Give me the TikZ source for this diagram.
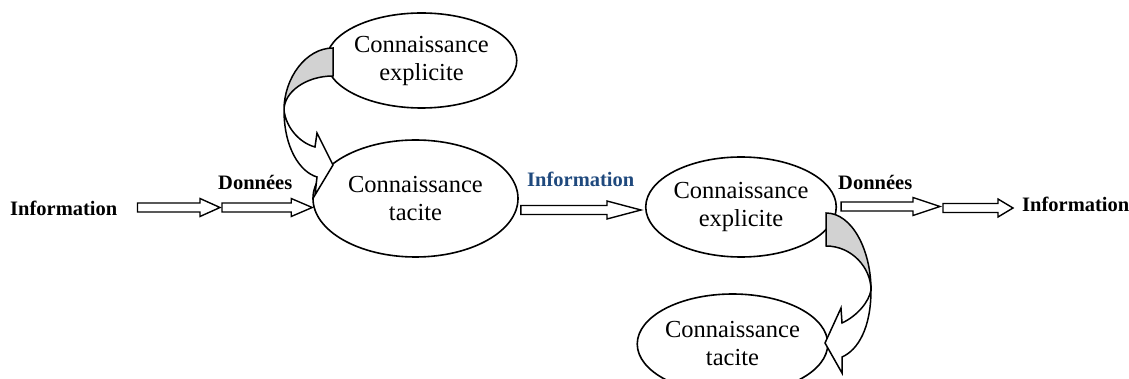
\documentclass[tikz,border=0pt]{standalone}
\usepackage{fontspec}
\setmainfont{Liberation Serif}
\usetikzlibrary{shapes.geometric,calc}

\definecolor{infoblue}{RGB}{31,73,125}
\definecolor{backgray}{RGB}{210,210,210}

\tikzset{
    savoir/.style={ellipse, draw, line width=1.6pt, inner sep=0pt, align=center,
        font=\fontsize{24.5}{28}\selectfont},
    flux/.style={anchor=base west, inner sep=0pt, font=\fontsize{20.5}{24}\selectfont\bfseries},
    blockarrow/.style={draw, line width=1.4pt, fill=white, line join=miter},
    curvedarrow/.style={draw, line width=1.5pt, fill=white, line join=miter},
}

% #1 head length, #2 tail, #3 tip (y taken from the tip)
\def\BlockArrow#1#2#3{
    \draw[blockarrow] let \p1=#2, \p2=#3 in
        (\x1,\y2+4.5pt) -- (\x2-#1pt,\y2+4.5pt) -- (\x2-#1pt,\y2+9pt) -- (\x2,\y2)
        -- (\x2-#1pt,\y2-9pt) -- (\x2-#1pt,\y2-4.5pt) -- (\x1,\y2-4.5pt) -- cycle;
}

\begin{document}
\begin{tikzpicture}[x=1pt,y=-1pt]
    \useasboundingbox (0,0) rectangle (1129,379);
    \clip (0,0) rectangle (1129,379);

    \node[savoir, minimum width=177pt, minimum height=95pt]  (explicitA) at (421.5,60.5) {Connaissance\\explicite};
    \node[savoir, minimum width=205pt, minimum height=117pt] (taciteA)   at (415.5,198.5) {Connaissance\\tacite};
    \node[savoir, minimum width=170pt, minimum height=100pt] (explicitB) at (741,207) {Connaissance\\explicite};
    \node[savoir, minimum width=183pt, minimum height=100pt] (taciteB)   at (732.5,344) {Connaissance\\tacite};

    \node[flux] (infoL)    at (10,216)   {Information};
    \node[flux] (donneesL) at (218,190)  {Données};
    \node[flux, text=infoblue] (infoM) at (527,187) {Information};
    \node[flux] (donneesR) at (838,190)  {Données};
    \node[flux] (infoR)    at (1022,212) {Information};

    \coordinate (j1) at (220,207.5);
    \coordinate (j2) at (940,206.5);
    \coordinate (j3) at (1013,208);

    \BlockArrow{20}{([xshift=20pt]infoL.east)}{(j1)}
    \BlockArrow{21}{([xshift=2pt]j1)}{([yshift=-9pt]taciteA.west)}
    \BlockArrow{34}{([xshift=2pt]taciteA.east)}{([xshift=-4pt,yshift=-3pt]explicitB.west)}
    \BlockArrow{27}{([xshift=4pt]explicitB.east)}{(j2)}
    \BlockArrow{15}{([xshift=3pt]j2)}{(j3)}

    % explicite -> tacite (top)
    \draw[curvedarrow, fill=backgray] (333,48) .. controls (306,48) and (284,78) .. (284,110)
        .. controls (284,92) and (306,76) .. (333,76) -- cycle;
    \draw[curvedarrow] (284,110) .. controls (284,148) and (300,172) .. (317,177)
        -- (315,195) -- (333,165) -- (317,133) -- (315,147)
        .. controls (300,143) and (286,128) .. (284,110) -- cycle;

    % explicite -> tacite (bottom)
    \draw[curvedarrow, fill=backgray] (826,213) .. controls (852,213) and (871,250) .. (871,290)
        .. controls (871,268) and (852,246) .. (826,246) -- cycle;
    \draw[curvedarrow] (871,290) .. controls (871,328) and (858,350) .. (842,357)
        -- (842,373) -- (825,343) -- (841,308) -- (842,323)
        .. controls (857,316) and (869,302) .. (871,290) -- cycle;
\end{tikzpicture}
\end{document}
